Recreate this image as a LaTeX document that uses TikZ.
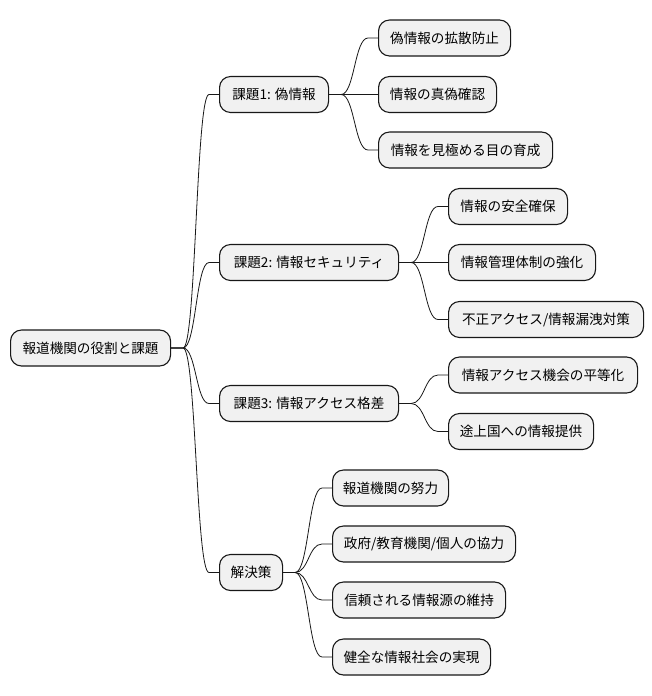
\documentclass[tikz,border=0pt]{standalone}
\usepackage{fontspec}
\setmainfont{Noto Sans CJK JP}
\usetikzlibrary{calc}
\definecolor{boxfill}{HTML}{F1F1F1}
\definecolor{boxline}{HTML}{181818}
\tikzset{
  mmbox/.style={draw=boxline, fill=boxfill, line width=1.1pt, rounded corners=11pt,
    anchor=west, minimum height=36pt, inner sep=0pt, font=\fontsize{13.6pt}{16pt}\selectfont},
  conn/.style={draw=boxline, line width=0.8pt}
}
\newcommand\mmedge[2]{%
  \draw[conn] let \p1=([xshift=12pt]#1.east), \p2=([xshift=-10pt]#2.west) in
   (#1.east) -- (\p1) .. controls ({(\x1+\x2)/2},\y1) and ({(\x1+\x2)/2},\y2) .. (\p2) -- (#2.west);}
\begin{document}
\begin{tikzpicture}[x=1pt,y=-1pt]
\useasboundingbox[fill=white] (0,0) rectangle (651,696);
% root
\node[mmbox, minimum width=160pt] (root) at (10,348) {報道機関の役割と課題};
% level 1
\node[mmbox, minimum width=109pt] (k1) at (219,94.5) {課題1: 偽情報};
\node[mmbox, minimum width=179pt] (k2) at (219,262.5) {課題2: 情報セキュリティ};
\node[mmbox, minimum width=179pt] (k3) at (219,403.5) {課題3: 情報アクセス格差};
\node[mmbox, minimum width=63pt] (k4) at (219,572.5) {解決策};
% level 2 of k1
\node[mmbox, minimum width=132pt] (a1) at (378,38) {偽情報の拡散防止};
\node[mmbox, minimum width=118pt] (a2) at (378,94.5) {情報の真偽確認};
\node[mmbox, minimum width=174pt] (a3) at (378,150) {情報を見極める目の育成};
% level 2 of k2
\node[mmbox, minimum width=119pt] (b1) at (448,206.5) {情報の安全確保};
\node[mmbox, minimum width=147pt] (b2) at (448,262.5) {情報管理体制の強化};
\node[mmbox, minimum width=195pt] (b3) at (448,319.5) {不正アクセス/情報漏洩対策};
% level 2 of k3
\node[mmbox, minimum width=189pt] (c1) at (448,375) {情報アクセス機会の平等化};
\node[mmbox, minimum width=145pt] (c2) at (448,431.5) {途上国への情報提供};
% level 2 of k4
\node[mmbox, minimum width=116pt] (d1) at (332,488) {報道機関の努力};
\node[mmbox, minimum width=183pt] (d2) at (332,544) {政府/教育機関/個人の協力};
\node[mmbox, minimum width=173pt] (d3) at (332,600) {信頼される情報源の維持};
\node[mmbox, minimum width=158pt] (d4) at (332,657) {健全な情報社会の実現};
% connectors
\foreach \c in {k1,k2,k3,k4} {\mmedge{root}{\c}}
\foreach \c in {a1,a2,a3} {\mmedge{k1}{\c}}
\foreach \c in {b1,b2,b3} {\mmedge{k2}{\c}}
\foreach \c in {c1,c2} {\mmedge{k3}{\c}}
\foreach \c in {d1,d2,d3,d4} {\mmedge{k4}{\c}}
\end{tikzpicture}
\end{document}
